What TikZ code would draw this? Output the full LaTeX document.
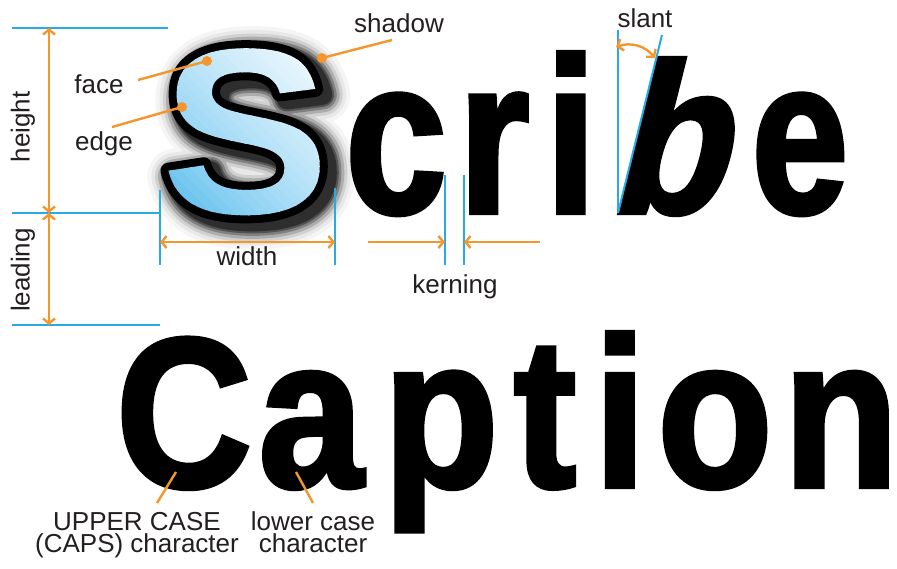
\documentclass[tikz,border=0pt]{standalone}
\usepackage{fontspec}
\setmainfont{Liberation Sans}
\newfontfamily\capfont{Liberation Sans}[FakeStretch=1.07]
\newfontfamily\slantfont{Liberation Sans}[FakeStretch=0.88,FakeBold=2]
\newfontfamily\narrowfont{Liberation Sans}[FakeStretch=0.82,FakeBold=2]
\newfontfamily\efont{Liberation Sans}[FakeStretch=0.78,FakeBold=2]
\newfontfamily\captionfont{Liberation Sans}[FakeStretch=0.88,FakeBold=2]
\usetikzlibrary{arrows.meta}

\definecolor{guide}{RGB}{41,171,226}
\definecolor{pointer}{RGB}{245,150,45}
\definecolor{labelc}{RGB}{35,31,32}

% raw PDF operators: inside the current text object / at the current point
\newcommand\pdfdirect[1]{\special{pdf:literal direct #1}}
\newcommand\pdfhere[1]{\special{pdf:literal #1}}
% the capital S stroked with a wide pen in grey level #1, pen width #2
\newcommand\haloS[2]{\pdfdirect{#1 g #1 G 1 j 1 J #2 w 2 Tr}S}

\begin{document}
% diagonal blue-to-white bands that fill the face of the S
\def\bandlist{0.20 0.68 0.91 rg -80 -300 89 600 re f}
\foreach \k in {1,...,29}{%
  \pgfmathsetmacro\bandF{pow(\k/29,0.6)}%
  \pgfmathsetmacro\bandR{0.20+0.76*\bandF}%
  \pgfmathsetmacro\bandG{0.68+0.305*\bandF}%
  \pgfmathsetmacro\bandB{0.91+0.09*\bandF}%
  \pgfmathtruncatemacro\bandX{8*\k}%
  \pgfmathtruncatemacro\bandW{\k==29 ? 200 : 9}%
  \xdef\bandlist{\bandlist\space\bandR\space\bandG\space\bandB\space rg \bandX\space -300 \bandW\space 600 re f}%
}
\begin{tikzpicture}[x=1pt,y=-1pt,
  bigS/.style={font=\capfont\bfseries\fontsize{236}{236}\selectfont, inner sep=0pt, anchor=base west},
  scribe/.style={font=\narrowfont\bfseries\fontsize{222}{222}\selectfont, inner sep=0pt, anchor=base},
  caption/.style={font=\captionfont\bfseries\fontsize{214}{214}\selectfont, inner sep=0pt, anchor=base},
  guideline/.style={draw=guide, line width=2pt},
  dim/.style={draw=pointer, line width=2.4pt, {Straight Barb[length=5pt,width=12pt]}-{Straight Barb[length=5pt,width=12pt]}},
  dimone/.style={draw=pointer, line width=2.4pt, -{Straight Barb[length=5pt,width=12pt]}},
  leader/.style={draw=pointer, line width=2.4pt},
  dot/.style={circle, fill=pointer, inner sep=0pt, minimum size=10pt},
  lbl/.style={font=\fontsize{26}{23}\selectfont, text=labelc, inner sep=0pt, align=center}]
\useasboundingbox (0,0) rectangle (897,568);
\fill[white] (0,0) rectangle (897,568);

% soft drop shadow behind the S, thrown down and to the right
\foreach \g/\w in {0.96/56, 0.91/48, 0.82/41, 0.68/35, 0.50/29, 0.32/24, 0.18/20}
  \node[bigS] (halo-\w) at (168,219) {\haloS{\g}{\w}};

% black edge of the S
\node[bigS] (Sedge) at (161,213) {\pdfdirect{0 g 0 G 1 j 16 w 2 Tr}S};

% gradient face of the S (glyph used as clip path)
\node[bigS] (Sface) at (161,213)
  {\pdfdirect{7 Tr}\rlap{S}\pdfhere{q 0.7071 0.7071 -0.7071 0.7071 0 -6 cm \bandlist\space Q}\phantom{S}};

% rest of the word
\node[scribe] (lc) at (396,213) {c};
\node[scribe] (lr) at (494,213) {r};
\node[scribe] (li) at (571,213) {i};
\begin{scope}[shift={(618,213)}, xslant=0.25]
  \node[scribe, font=\slantfont\bfseries\fontsize{214}{214}\selectfont, anchor=base west, transform shape] (lb) at (-11,0) {b};
\end{scope}
\node[scribe, font=\efont\bfseries\fontsize{222}{222}\selectfont] (le) at (800,213) {e};

% second line
\node[caption] (cC) at (184,487) {C};
\node[caption] (ca) at (311,487) {a};
\node[caption] (cp) at (441,487) {p};
\node[caption] (ct) at (545,487) {t};
\node[caption] (ci) at (620,487) {i};
\node[caption] (co) at (715,487) {o};
\node[caption] (cn) at (841,487) {n};

% guide lines
\coordinate (capL) at (12,28);   \coordinate (capR) at (168,28);
\coordinate (baseL) at (12,213); \coordinate (baseR) at (160,213);
\coordinate (leadL) at (12,325); \coordinate (leadR) at (160,325);
\coordinate (wA) at (160,190);   \coordinate (wAb) at (160,265);
\coordinate (wB) at (335,188);   \coordinate (wBb) at (335,265);
\coordinate (kA) at (445,175);   \coordinate (kAb) at (445,265);
\coordinate (kB) at (464,175);   \coordinate (kBb) at (464,265);
\coordinate (slV) at (618,30);   \coordinate (slO) at (618,213);
\coordinate (slT) at (662,35);
\draw[guideline] (capL) -- (capR);
\draw[guideline] (baseL) -- (baseR);
\draw[guideline] (leadL) -- (leadR);
\draw[guideline] (wA) -- (wAb);
\draw[guideline] (wB) -- (wBb);
\draw[guideline] (kA) -- (kAb);
\draw[guideline] (kB) -- (kBb);
\draw[guideline] (slV) -- (slO);
\draw[guideline] (slT) -- (slO);

% dimension arrows
\coordinate (hTop) at (49,28);  \coordinate (hBot) at (49,213);
\coordinate (ldBot) at (49,325);
\coordinate (wL) at (160,242);  \coordinate (wR) at (335,242);
\coordinate (kLs) at (368,242); \coordinate (kLe) at (445,242);
\coordinate (kRs) at (540,242); \coordinate (kRe) at (464,242);
\coordinate (arcA) at (616,47); \coordinate (arcB) at (655,58);
\draw[dim] (hTop) -- (hBot);
\draw[dim] (hBot) -- (ldBot);
\draw[dim] (wL) -- (wR);
\draw[dimone] (kLs) -- (kLe);
\draw[dimone] (kRs) -- (kRe);
\draw[dim] (arcA) to[bend left=35] (arcB);

% pointers
\node[dot] (faceDot) at (207,61) {};
\node[dot] (edgeDot) at (182,107) {};
\node[dot] (shadowDot) at (322,58) {};
\coordinate (faceEnd) at (138,80);
\coordinate (edgeEnd) at (112,127);
\coordinate (shadowEnd) at (392,40);
\coordinate (upA) at (176,472); \coordinate (upB) at (157,503);
\coordinate (loA) at (296,472); \coordinate (loB) at (313,503);
\draw[leader] (faceDot.center) -- (faceEnd);
\draw[leader] (edgeDot.center) -- (edgeEnd);
\draw[leader] (shadowDot.center) -- (shadowEnd);
\draw[leader] (upA) -- (upB);
\draw[leader] (loA) -- (loB);

% labels
\node[lbl, rotate=90] (tHeight) at (23,127) {height};
\node[lbl, rotate=90] (tLeading) at (23,270) {leading};
\node[lbl, anchor=base] (tFace) at (99,93) {face};
\node[lbl, anchor=base] (tEdge) at (104,150) {edge};
\node[lbl, anchor=base] (tShadow) at (399,32) {shadow};
\node[lbl, anchor=base] (tSlant) at (645,27) {slant};
\node[lbl, anchor=base] (tWidth) at (247,265) {width};
\node[lbl, anchor=base] (tKern) at (455,293) {kerning};
\node[lbl, anchor=base] (tUp1) at (137,530) {UPPER CASE};
\node[lbl, anchor=base] (tUp2) at (137,552) {(CAPS) character};
\node[lbl, anchor=base] (tLo1) at (313,530) {lower case};
\node[lbl, anchor=base] (tLo2) at (313,552) {character};
\end{tikzpicture}
\end{document}
